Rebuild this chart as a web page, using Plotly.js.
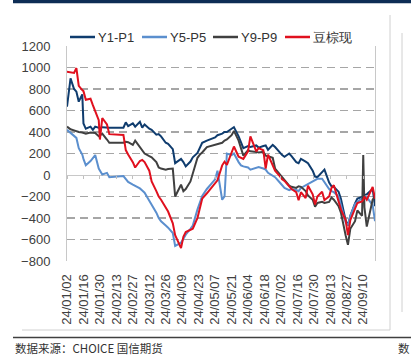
<!DOCTYPE html>
<html><head><meta charset="utf-8">
<script src="https://cdn.plot.ly/plotly-3.0.1.min.js"></script>
<style>html,body{margin:0;padding:0;background:#fff;overflow:hidden}#c{width:411px;height:361px}</style>
</head><body><div id="c"></div>
<script>
const dates = [
'2024-01-02','2024-01-05','2024-01-08','2024-01-10','2024-01-12','2024-01-15','2024-01-16','2024-01-18','2024-01-22','2024-01-24','2024-01-26','2024-01-29','2024-01-30',
'2024-02-01','2024-02-05','2024-02-07','2024-02-19','2024-02-21','2024-02-23','2024-02-27','2024-02-29',
'2024-03-04','2024-03-06','2024-03-08','2024-03-12','2024-03-14','2024-03-18','2024-03-20','2024-03-22','2024-03-26','2024-03-28',
'2024-04-01','2024-04-03','2024-04-08','2024-04-10','2024-04-12','2024-04-16','2024-04-18','2024-04-22','2024-04-24','2024-04-26','2024-04-30',
'2024-05-07','2024-05-09','2024-05-13','2024-05-15','2024-05-17','2024-05-21','2024-05-23','2024-05-27','2024-05-29','2024-05-31',
'2024-06-04','2024-06-06','2024-06-11','2024-06-13','2024-06-17','2024-06-19','2024-06-21','2024-06-25','2024-06-27',
'2024-07-01','2024-07-03','2024-07-05','2024-07-09','2024-07-11','2024-07-15','2024-07-17','2024-07-19','2024-07-23','2024-07-25','2024-07-29','2024-07-31',
'2024-08-02','2024-08-06','2024-08-08','2024-08-12','2024-08-14','2024-08-16','2024-08-20','2024-08-22','2024-08-26','2024-08-28','2024-08-30',
'2024-09-03','2024-09-05','2024-09-09','2024-09-10','2024-09-11','2024-09-13','2024-09-18','2024-09-20'];

const y1p1 = [635,899,800,775,682,750,480,430,450,420,450,440,435,
445,440,440,440,490,455,480,450,
495,440,470,430,420,375,380,360,300,290,
240,110,150,120,80,125,165,205,260,300,320,
350,370,385,400,400,430,445,360,300,250,
270,260,275,255,270,275,235,280,260,
205,185,170,200,175,120,110,150,125,110,40,-15,
-20,30,50,-70,-105,-110,-155,-220,-420,-470,-380,
-265,-220,-205,-195,-185,-180,-130,-290];

const y5p5 = [420,395,370,345,250,190,150,90,130,160,185,60,40,
5,20,-20,-10,-35,-65,-90,-100,
-125,-145,-165,-240,-275,-350,-400,-430,-470,-490,
-540,-660,-630,-590,-555,-500,-470,-320,-250,-195,-130,
-40,40,-230,-200,200,185,200,120,90,80,
70,50,65,75,60,50,20,-10,-20,
-70,-100,-120,-140,-130,-140,-150,-120,-95,-85,-55,-45,
-35,-35,-70,-130,-150,-160,-200,-280,-440,-470,-380,
-270,-250,-210,-205,-200,-205,-280,-430];

const y9p9 = [450,425,415,405,400,395,390,385,395,390,390,360,370,
385,330,300,300,310,305,280,320,
260,230,200,175,165,120,70,60,50,55,
60,-200,-90,-150,-130,-60,20,160,190,210,260,
280,290,300,320,330,370,410,320,250,180,
230,220,215,210,215,180,175,160,60,
10,-20,-40,-100,-110,-120,-105,-110,-150,-190,-230,-295,
-260,-250,-260,-250,-210,-230,-290,-350,-560,-650,-500,
-430,-330,-380,185,-300,-480,-230,-200];

const soyPalm = [960,955,950,995,830,790,780,700,710,650,590,510,330,
530,470,380,372,232,190,120,70,
130,140,120,40,-60,-150,-200,-230,-310,-340,
-450,-560,-680,-575,-530,-510,-500,-400,-300,-220,-170,
-70,-50,90,124,95,200,265,170,160,150,
220,360,220,250,230,60,190,90,40,
-10,-40,-55,-110,-130,-160,-235,-160,-215,-100,-180,-275,
-200,-155,-233,-200,-120,-95,-230,-320,-420,-560,-420,
-300,-260,-245,-230,-200,-230,-110,-220];

const seriesNames = ['Y1-P1','Y5-P5','Y9-P9','豆棕现'];
const seriesColors = ['#0f3c6e','#5b8fce','#404040','#e0101e'];
const seriesData = [y1p1, y5p5, y9p9, soyPalm];

const traces = seriesData.map((v,i)=>({
  type:'scatter', mode:'lines', x:dates, y:v, name:seriesNames[i], showlegend:false,
  line:{color:seriesColors[i], width:2}, hoverinfo:'skip'
}));
traces.push({type:'scatter', mode:'lines', x:[dates[0]], y:[0], xaxis:'x2', showlegend:false, hoverinfo:'skip', line:{color:'rgba(0,0,0,0)'}});

const L=67, R=375, T=46, B=261;
const px = x => (x-L)/(R-L);
const py = y => (B-y)/(B-T);
const font = 'Liberation Sans, Arial, sans-serif';
const xr = ['2024-01-02','2024-09-20'];
const DAY = 86400000;

// legend (drawn as shapes + text)
const legX = [70, 142, 213, 285], legY = 37, legLen = 25;
const legShapes = seriesNames.map((n,i)=>({type:'line', xref:'paper', yref:'paper',
  x0:px(legX[i]), x1:px(legX[i]+legLen), y0:py(legY), y1:py(legY), line:{color:seriesColors[i], width:2.5}}));
const legText = seriesNames.map((n,i)=>({xref:'paper', yref:'paper', x:px(legX[i]+legLen+1), y:py(legY),
  xanchor:'left', yanchor:'middle', showarrow:false, text:n, font:{family:font, size:13, color:'#333'}}));

const layout = {
  width:411, height:361,
  margin:{l:L, r:411-R, t:T, b:361-B, autoexpand:false},
  paper_bgcolor:'#fff', plot_bgcolor:'#fff',
  font:{family:font, size:13, color:'#404040'},
  showlegend:false,
  xaxis:{type:'date', range:xr, tick0:'2024-01-02', dtick:14*DAY, tickformat:'%y/%m/%d', tickangle:-90,
    showgrid:false, showline:false, zeroline:false, ticks:'outside', ticklen:7, tickcolor:'rgba(0,0,0,0)',
    tickfont:{size:13, color:'#404040'}},
  xaxis2:{type:'date', overlaying:'x', anchor:'free', position:0.4, range:xr, tick0:'2024-01-02', dtick:14*DAY,
    showticklabels:false, showgrid:false, showline:false, zeroline:false, ticks:'outside', ticklen:3, tickcolor:'#bfbfbf', tickwidth:1},
  yaxis:{range:[-800,1200], dtick:200, tick0:0, showgrid:true, gridcolor:'#a6a6a6', gridwidth:1.3, griddash:'8px,5px',
    zeroline:true, zerolinecolor:'#c8c8c8', zerolinewidth:1,
    showline:true, linecolor:'#c8c8c8', linewidth:1, mirror:true,
    ticks:'outside', ticklen:13, tickcolor:'rgba(0,0,0,0)', tickfont:{size:13, color:'#404040'}},
  shapes:[
    {type:'rect', xref:'paper', yref:'paper', x0:px(13), x1:px(411), y0:py(0), y1:py(3.3), fillcolor:'#0d2d55', line:{width:0}},
    {type:'line', xref:'paper', yref:'paper', x0:px(390), x1:px(390), y0:py(15), y1:py(330), line:{color:'#d0d0d0', width:1}},
    {type:'line', xref:'paper', yref:'paper', x0:px(22), x1:px(390), y0:py(330), y1:py(330), line:{color:'#d0d0d0', width:1}},
    {type:'line', xref:'paper', yref:'paper', x0:px(402), x1:px(402), y0:py(33), y1:py(312), line:{color:'#d0d0d0', width:1}},
    {type:'line', xref:'paper', yref:'paper', x0:px(13), x1:px(411), y0:py(337.5), y1:py(337.5), line:{color:'#404040', width:1.5}}
  ].concat(legShapes),
  annotations:[
    {xref:'paper', yref:'paper', x:px(13), y:py(348), xanchor:'left', yanchor:'middle', showarrow:false,
     text:'数据来源：CHOICE 国信期货', font:{family:'Noto Sans CJK SC', size:11.5, color:'#333'}},
    {xref:'paper', yref:'paper', x:px(396), y:py(348), xanchor:'left', yanchor:'middle', showarrow:false,
     text:'数', font:{family:'Noto Sans CJK SC', size:11.5, color:'#333'}}
  ].concat(legText)
};
Plotly.newPlot('c', traces, layout, {displayModeBar:false, staticPlot:true});
</script></body></html>
